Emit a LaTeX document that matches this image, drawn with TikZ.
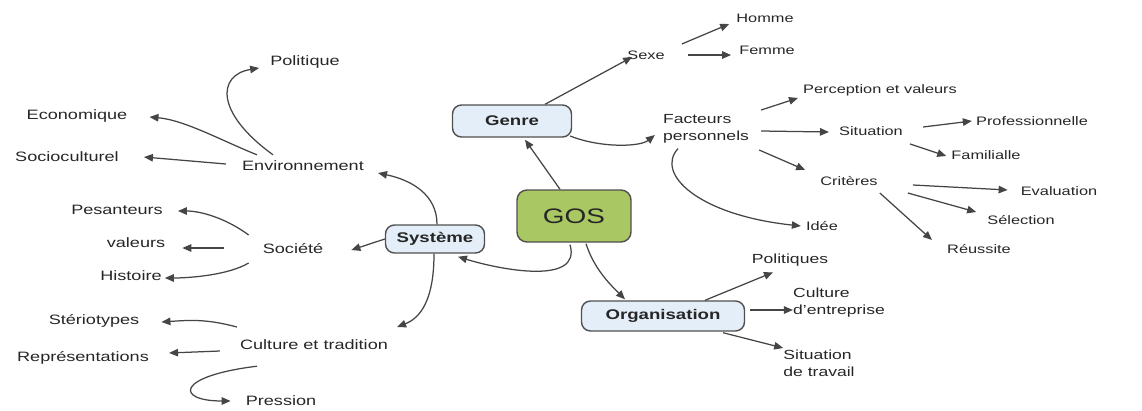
\documentclass[tikz,border=0pt]{standalone}
\usepackage{fontspec}
\setmainfont{Liberation Sans}[FakeStretch=1.33]
\usetikzlibrary{arrows.meta,calc}
\definecolor{txt}{HTML}{262626}
\definecolor{lnk}{HTML}{454545}
\definecolor{bord}{HTML}{505050}
\definecolor{boxfill}{HTML}{E4EEF8}
\definecolor{gosfill}{HTML}{A9C763}
\tikzset{
  lblA/.style={inner sep=2pt, text=txt, font=\fontsize{13.6}{17}\selectfont},
  lblB/.style={inner sep=2pt, text=txt, font=\fontsize{12.3}{16}\selectfont},
  lblC/.style={inner sep=2pt, text=txt, align=left, font=\fontsize{13.2}{17}\selectfont},
  topbox/.style={draw=bord, line width=1.4pt, rounded corners=9pt, fill=boxfill, text=txt,
     font=\fontsize{14}{16}\selectfont\bfseries, inner sep=0pt},
  gosbox/.style={draw=bord, line width=1.4pt, rounded corners=10pt, fill=gosfill, text=txt,
     font=\fontsize{21}{24}\selectfont, minimum width=114pt, minimum height=52pt, inner sep=0pt},
  arr/.style={draw=lnk, line width=1.25pt, -{Triangle[length=9pt,width=7.5pt]}},
}
\begin{document}
\begin{tikzpicture}[x=1pt,y=-1pt]
\useasboundingbox (0,0) rectangle (1142,410);

% main boxes
\node[gosbox] (gos) at (574,216) {GOS};
\node[topbox, minimum width=119pt, minimum height=32pt] (genre) at (512,121) {Genre};
\node[topbox, minimum width=99pt, minimum height=28pt] (sys) at (435,239) {Système};
\node[topbox, minimum width=163pt, minimum height=30pt] (org) at (663,316) {Organisation};

% Genre branch
\node[lblB] (sexe) at (646,55) {Sexe};
\node[lblB] (homme) at (765,18) {Homme};
\node[lblB] (femme) at (767,50) {Femme};
\node[lblC] (fac) at (706,129) {Facteurs\\personnels};
\node[lblB] (perc) at (880,90) {Perception et valeurs};
\node[lblB] (sit) at (871,131) {Situation};
\node[lblB] (prof) at (1032,121) {Professionnelle};
\node[lblB] (fam) at (986,155) {Familialle};
\node[lblB] (crit) at (849,181) {Critères};
\node[lblB] (eval) at (1059,191) {Evaluation};
\node[lblB] (sel) at (1021,220) {Sélection};
\node[lblB] (reus) at (979,249) {Réussite};
\node[lblB] (idee) at (822,226) {Idée};

% Organisation branch
\node[lblC] (pol) at (790,260) {Politiques};
\node[lblC] (cult) at (839,303) {Culture\\d'entreprise};
\node[lblC] (sitt) at (819,363) {Situation\\de travail};

% Systeme branch
\node[lblA] (polit) at (305,62) {Politique};
\node[lblA] (eco) at (77,116) {Economique};
\node[lblA] (socio) at (67,157) {Socioculturel};
\node[lblA] (env) at (303,166) {Environnement};
\node[lblA] (pes) at (117,210) {Pesanteurs};
\node[lblA] (val) at (136,243) {valeurs};
\node[lblA] (hist) at (131,276) {Histoire};
\node[lblA] (soc) at (293,249) {Société};
\node[lblA] (ster) at (94,321) {Stériotypes};
\node[lblA] (rep) at (83,358) {Représentations};
\node[lblA] (ctr) at (314,345) {Culture et tradition};
\node[lblA] (pres) at (281,401) {Pression};

% GOS connectors
\draw[arr] ($(gos.north)+(-14,0)$) -- ($(genre.south)+(13,2)$);
\draw[arr] ($(gos.south)+(12,1)$) .. controls +(8,25) and +(-15,-15) .. ($(org.north)+(-38,-1)$);
\draw[arr] ($(gos.south)+(-4,2)$) .. controls +(12,41) and +(42,13) .. ($(sys.south)+(23,3)$);

% Genre connectors
\draw[arr] ($(genre.north)+(33,0)$) -- ($(sexe.west)+(7,2)$);
\draw[arr] ($(genre.east)+(-2,15)$) .. controls +(30,12) and +(-15,12) .. ($(fac.west)+(-6,6)$);
\draw[arr] ($(sexe.east)+(15,-11)$) -- ($(homme.west)+(-5,6)$);
\draw[arr] ($(sexe.east)+(21,0)$) -- ($(femme.west)+(-6,5)$);
\draw[arr] ($(fac.east)+(10,-19)$) -- ($(perc.west)+(-3,8)$);
\draw[arr] ($(fac.east)+(10,2)$) -- ($(sit.west)+(-8,1)$);
\draw[arr] ($(fac.east)+(8,21)$) -- ($(crit.west)+(-13,-11)$);
\draw[arr] ($(fac.south)+(-28,3)$) .. controls +(-23,25) and +(-103,-11) .. ($(idee.west)+(-3,0)$);
\draw[arr] ($(sit.east)+(18,-4)$) -- ($(prof.west)+(-2,0)$);
\draw[arr] ($(sit.east)+(5,13)$) -- ($(fam.west)+(-3,1)$);
\draw[arr] ($(crit.east)+(33,4)$) -- ($(eval.west)+(-11,-1)$);
\draw[arr] ($(crit.east)+(28,12)$) -- ($(sel.west)+(-9,-8)$);
\draw[arr] ($(crit.east)+(0,12)$) -- ($(reus.west)+(-13,-9)$);

% Organisation connectors
\draw[arr] ($(org.north)+(42,0)$) -- ($(pol.south)+(-17,4)$);
\draw[arr] ($(org.east)+(5,-6)$) -- ($(cult.west)+(2,7)$);
\draw[arr] ($(org.south)+(60,1)$) -- ($(sitt.west)+(2,-15)$);

% Systeme connectors
\draw[arr] ($(sys.north)+(2,0)$) .. controls +(0,-30) and +(33,7) .. ($(env.east)+(12,7)$);
\draw[arr] (sys.west) -- ($(soc.east)+(26,1)$);
\draw[arr] ($(sys.south)+(-1,0)$) .. controls +(0,47) and +(23,-9) .. ($(ctr.east)+(7,-18)$);

% Environnement connectors
\draw[arr] ($(env.north)+(-30,-4)$) .. controls +(-58,-42) and +(-42,7) .. ($(polit.west)+(-9,6)$);
\draw[arr] ($(env.north)+(-46,-4)$) .. controls +(-35,-14) and +(35,3) .. ($(eco.east)+(20,1)$);
\draw[arr] ($(env.west)+(-14,-2)$) -- ($(socio.east)+(23,0)$);

% Societe connectors
\draw[arr] ($(soc.west)+(-12,-14)$) .. controls +(-20,-15) and +(25,0) .. ($(pes.east)+(13,1)$);
\draw[arr] ($(soc.west)+(-37,-1)$) -- ($(val.east)+(15,5)$);
\draw[arr] ($(soc.west)+(-12,14)$) .. controls +(-20,12) and +(25,0) .. ($(hist.east)+(1,2)$);

% Culture et tradition connectors
\draw[arr] ($(ctr.west)+(-1,-18)$) .. controls +(-30,-8) and +(30,-2) .. ($(ster.east)+(20,1)$);
\draw[arr] ($(ctr.west)+(-18,6)$) -- ($(rep.east)+(18,-5)$);
\draw[arr] ($(ctr.south)+(-57,14)$) .. controls +(-82,10) and +(-55,0) .. ($(pres.west)+(-13,0)$);
\end{tikzpicture}
\end{document}
